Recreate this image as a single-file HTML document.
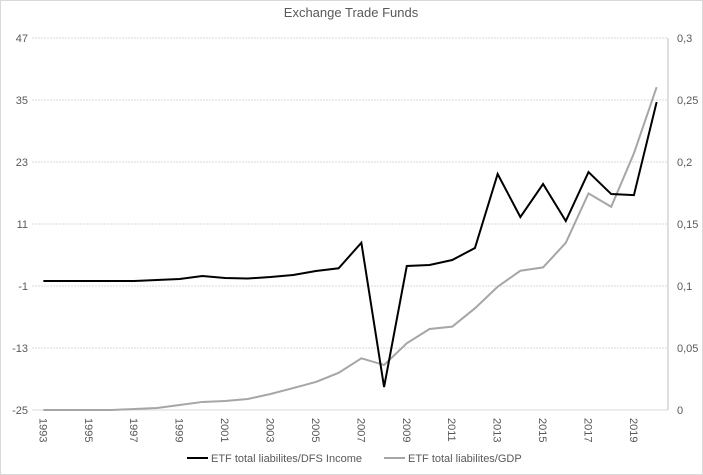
<!DOCTYPE html>
<html><head><meta charset="utf-8"><style>
body{margin:0;background:#fff}
svg{display:block;font-family:"Liberation Sans",sans-serif}
</style></head><body>
<svg id="c" width="703" height="475">
<rect x="0.5" y="0.5" width="702" height="474" fill="#fff" stroke="#d9d9d9"/>
<text x="351" y="17" text-anchor="middle" font-size="13" fill="#595959">Exchange Trade Funds</text>
<g id="grid"></g><g id="axes"></g><g id="series"></g>
<g>
<line x1="187" y1="458" x2="208" y2="458" stroke="#000" stroke-width="2"/>
<text x="211" y="462" font-size="11" fill="#595959">ETF total liabilites/DFS Income</text>
<line x1="384" y1="458" x2="405" y2="458" stroke="#a6a6a6" stroke-width="2"/>
<text x="408" y="462" font-size="11" fill="#595959">ETF total liabilites/GDP</text>
</g>
</svg>
<script>
const years=[1993,1994,1995,1996,1997,1998,1999,2000,2001,2002,2003,2004,2005,2006,2007,2008,2009,2010,2011,2012,2013,2014,2015,2016,2017,2018,2019,2020];
const dfsIncome=[-0.03,-0.03,-0.03,-0.03,-0.03,0.16,0.35,0.94,0.55,0.45,0.74,1.13,1.9,2.43,7.38,-20.55,2.87,3.06,4.03,6.35,20.68,12.35,18.74,11.58,21.06,16.8,16.6,34.6];
const gdp=[0,0,0,0,0.0008,0.0016,0.004,0.0065,0.0073,0.0089,0.0129,0.0177,0.0226,0.030,0.0417,0.0363,0.0538,0.0653,0.0672,0.082,0.0994,0.1123,0.115,0.1348,0.1747,0.1639,0.207,0.2603];
const leftTicks=[47,35,23,11,-1,-13,-25];
const rightTicks=["0,3","0,25","0,2","0,15","0,1","0,05","0"];
const rightTickVals=[0.3,0.25,0.2,0.15,0.1,0.05,0];
const NS="http://www.w3.org/2000/svg";
const L=32,R=668,T=38,B=410;
const band=(R-L)/years.length;
const x=i=>L+band*(i+0.5);
const yL=v=>B-(v+25)/72*(B-T);
const yR=v=>B-v/0.3*(B-T);
function mk(tag,attrs,parent){const e=document.createElementNS(NS,tag);for(const k in attrs)e.setAttribute(k,attrs[k]);document.getElementById(parent).appendChild(e);return e;}
leftTicks.forEach((v,i)=>{
 const g=mk('line',{x1:L,x2:R,y1:yL(v),y2:yL(v),stroke:'#d9d9d9','stroke-width':1,'stroke-dasharray':v===-25?'':'2,1'},'grid');
 
 
 const t=mk('text',{x:28,y:yL(v)+4,'text-anchor':'end','font-size':11,fill:'#595959'},'axes');t.textContent=v;
 
 
});
rightTicks.forEach((s,i)=>{
 const t=mk('text',{x:677,y:yR(rightTickVals[i])+4,'font-size':11,fill:'#595959'},'axes');t.textContent=s;
 
 
});
const ax=mk('line',{x1:R,x2:R,y1:T,y2:B,stroke:'#bfbfbf'},'axes');


years.forEach((yr,i)=>{
 if(i%2) return;
 const t=mk('text',{transform:`translate(${x(i)-4},${418}) rotate(90)`,'font-size':11,fill:'#595959'},'axes');t.textContent=yr;
 
 
});
const p1=mk('polyline',{points:gdp.map((v,i)=>x(i)+','+yR(v)).join(' '),fill:'none',stroke:'#a6a6a6','stroke-width':2},'series');


const p2=mk('polyline',{points:dfsIncome.map((v,i)=>x(i)+','+yL(v)).join(' '),fill:'none',stroke:'#000','stroke-width':2},'series');


</script>
</body></html>
